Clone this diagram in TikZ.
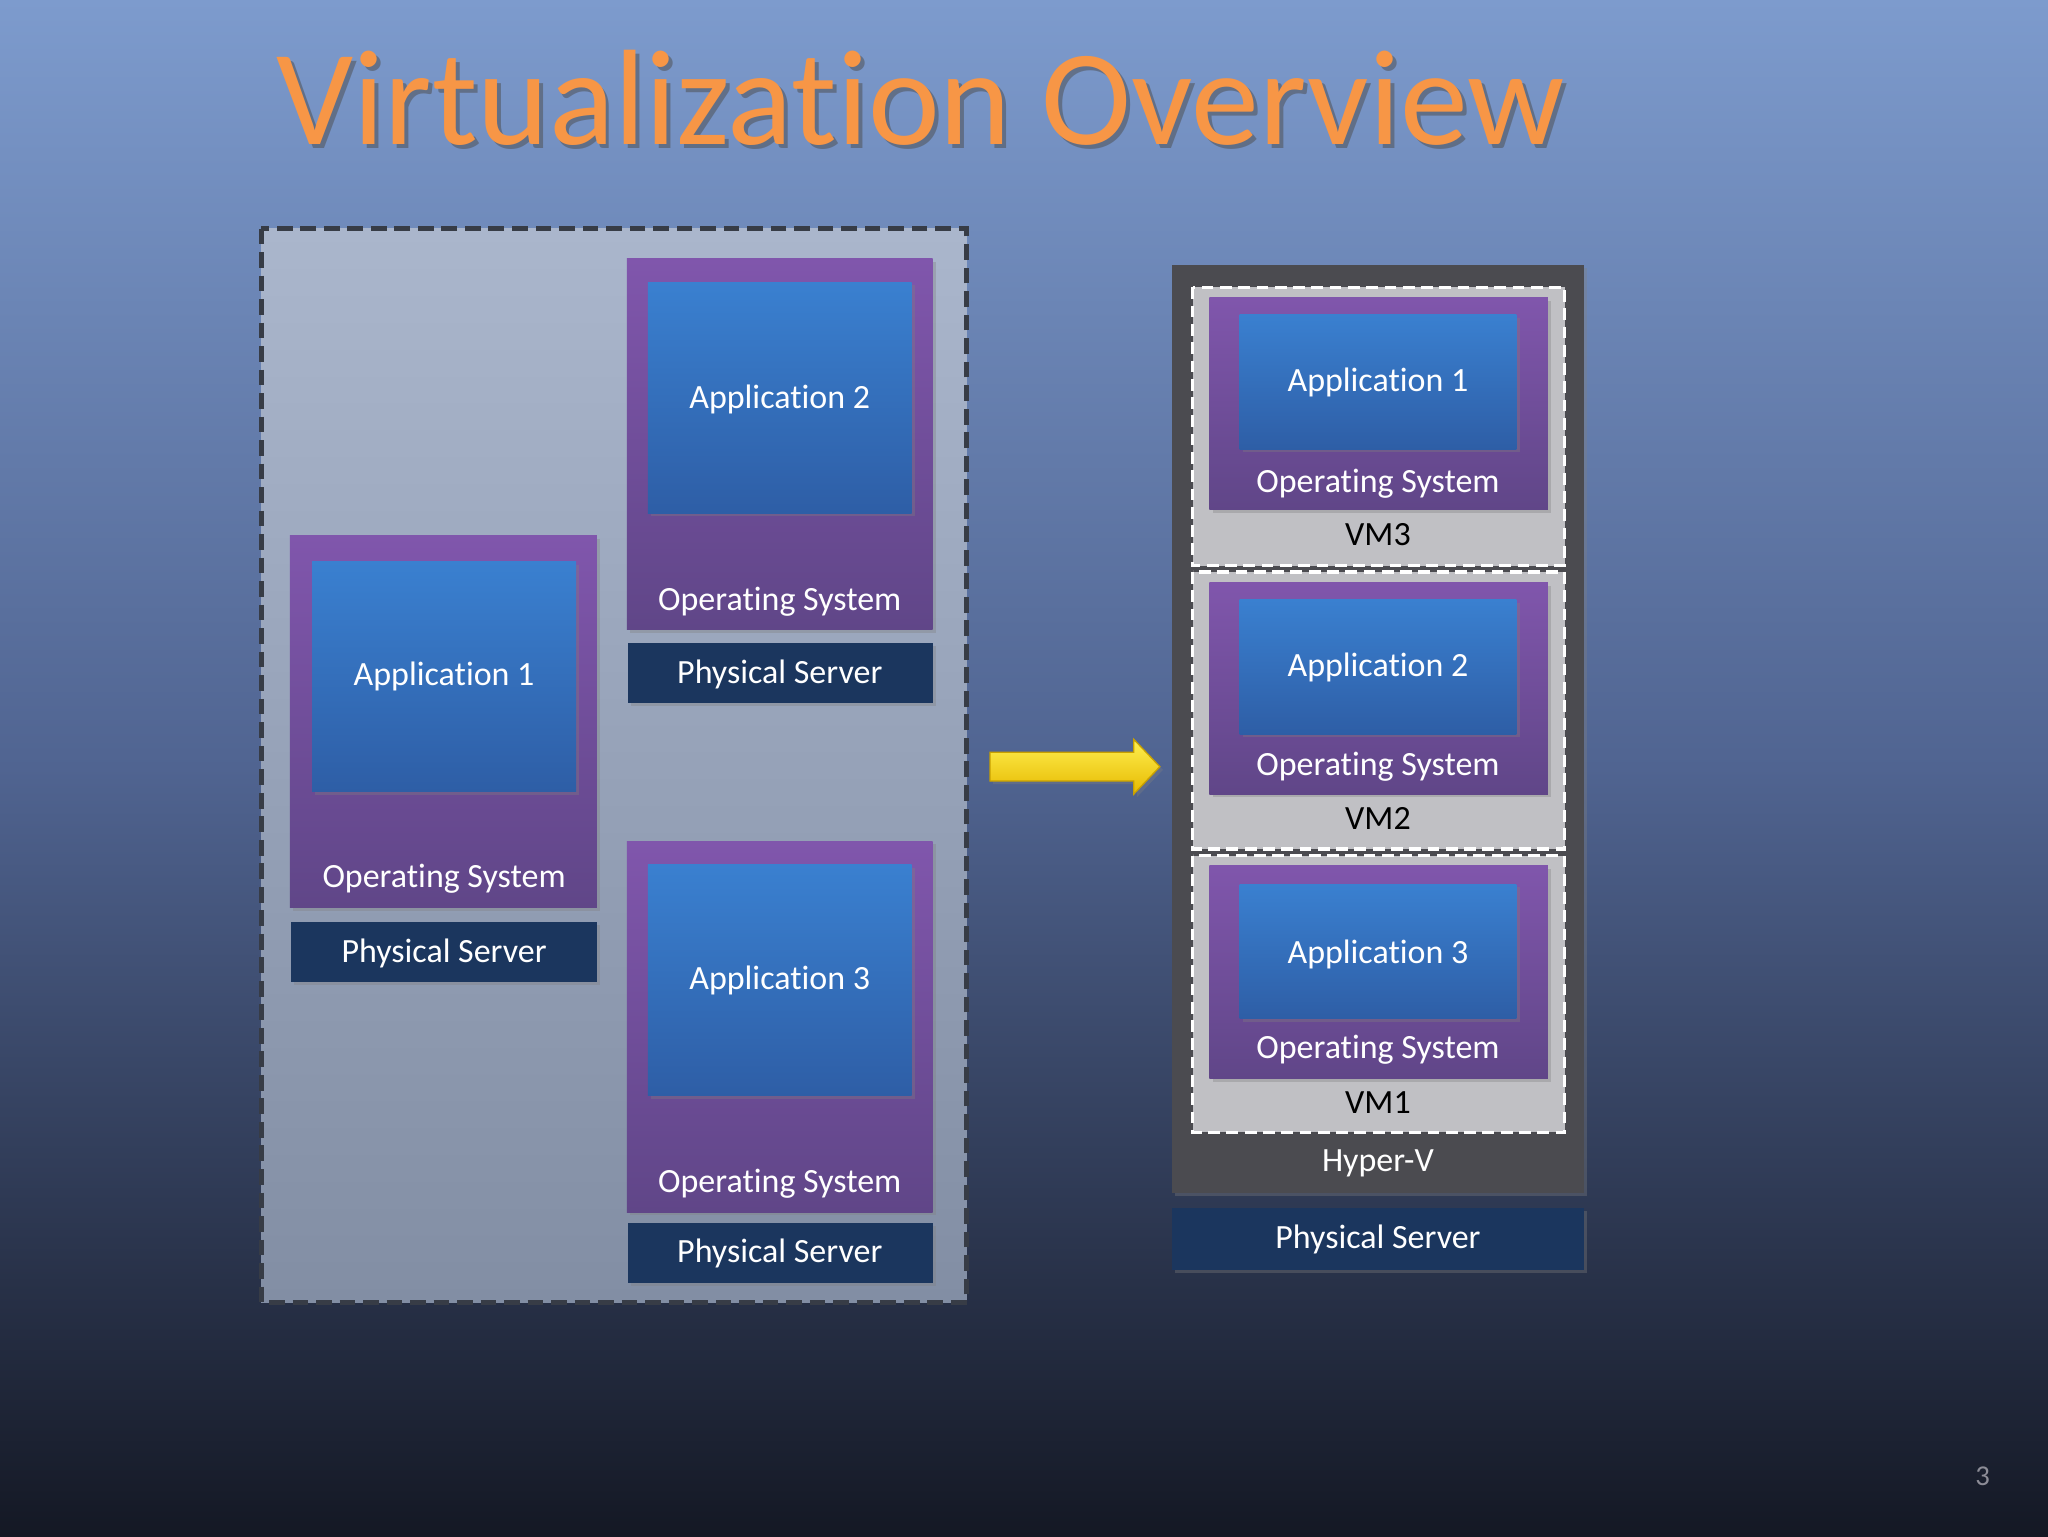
\documentclass[tikz,border=0pt]{standalone}
\usepackage{fontspec}
\setmainfont{Carlito}[Ligatures=NoCommon]
\usetikzlibrary{shadows}
\definecolor{navy}{RGB}{27,54,94}
\definecolor{orng}{RGB}{247,150,70}
\definecolor{hvgrey}{RGB}{75,75,80}
\definecolor{vmgrey}{RGB}{192,192,196}
\tikzset{
 osbox/.style={draw=none,top color={rgb,255:red,128;green,86;blue,172},bottom color={rgb,255:red,96;green,70;blue,136},drop shadow={opacity=0.35}},
 appbox/.style={draw=none,top color={rgb,255:red,58;green,128;blue,208},bottom color={rgb,255:red,46;green,94;blue,166},drop shadow={opacity=0.35}},
 psbox/.style={fill=navy,draw=none,drop shadow={opacity=0.35}},
 wtxt/.style={text=white,font=\fontsize{26}{30}\selectfont},
 btxt/.style={text=black,font=\fontsize{26}{30}\selectfont},
 vmbox/.style={fill=vmgrey,draw=white,line width=2.5pt,dash pattern=on 9pt off 5pt},
}
\begin{document}
\begin{tikzpicture}[x=1pt,y=-1pt]
\useasboundingbox (0,0) rectangle (1568,1176);
\shade[top color={rgb,255:red,125;green,155;blue,205},bottom color={rgb,255:red,20;green,24;blue,36},middle color={rgb,255:red,80;green,100;blue,145}] (0,0) rectangle (1568,1176);
% title
\node[text=black!70,opacity=0.5,font=\fontsize{104}{116}\selectfont,anchor=base] at (708,114) {Virtualization Overview};
\node (title)[text=orng,font=\fontsize{104}{116}\selectfont,anchor=base] at (705,111) {Virtualization Overview};
% left box
\fill[top color={rgb,255:red,170;green,182;blue,204},bottom color={rgb,255:red,130;green,142;blue,164}] (200,175) rectangle (740,997);
\draw[line width=3.5pt,draw={rgb,255:red,55;green,60;blue,70},dash pattern=on 12pt off 6pt] (200,175) rectangle (740,997);
% app1
\path[osbox] (222,410) rectangle (457,695);
\path[appbox] (239,430) rectangle (441,606);
\node (a1)[wtxt] at (340,518) {Application 1};
\node (o1)[wtxt] at (340,673) {Operating System};
\path[psbox] (223,706) rectangle (457,752);
\node (p1)[wtxt] at (340,730) {Physical Server};
% app2
\path[osbox] (480,198) rectangle (714,482);
\path[appbox] (496,216) rectangle (698,393);
\node (a2)[wtxt] at (597,306) {Application 2};
\node (o2)[wtxt] at (597,461) {Operating System};
\path[psbox] (481,492) rectangle (714,538);
\node (p2)[wtxt] at (597,516) {Physical Server};
% app3
\path[osbox] (480,644) rectangle (714,928);
\path[appbox] (496,662) rectangle (698,839);
\node (a3)[wtxt] at (597,751) {Application 3};
\node (o3)[wtxt] at (597,906) {Operating System};
\path[psbox] (481,936) rectangle (714,982);
\node (p3)[wtxt] at (597,960) {Physical Server};
% arrow
\path[draw={rgb,255:red,200;green,160;blue,0},line width=1pt,top color={rgb,255:red,255;green,240;blue,80},bottom color={rgb,255:red,230;green,185;blue,0},drop shadow={opacity=0.35}]
 (758,576) -- (868,576) -- (868,566) -- (888,587) -- (868,608) -- (868,598) -- (758,598) -- cycle;
% right
\fill[hvgrey,drop shadow={opacity=0.35}] (897,203) rectangle (1213,913);
\node (hv)[wtxt] at (1055,891) {Hyper-V};
\path[psbox] (897,925) rectangle (1213,972);
\node (pr)[wtxt] at (1055,949) {Physical Server};
% VM3
\draw[vmbox] (913,220) rectangle (1198,433);
\path[osbox] (926,228) rectangle (1185,390);
\path[appbox] (949,241) rectangle (1161,344);
\node (va3)[wtxt] at (1055,293) {Application 1};
\node (vo3)[wtxt] at (1055,370) {Operating System};
\node (vm3)[btxt] at (1055,409) {VM3};
% VM2
\draw[vmbox] (913,438) rectangle (1198,650);
\path[osbox] (926,446) rectangle (1185,608);
\path[appbox] (949,459) rectangle (1161,562);
\node (va2)[wtxt] at (1055,511) {Application 2};
\node (vo2)[wtxt] at (1055,587) {Operating System};
\node (vm2)[btxt] at (1055,627) {VM2};
% VM1
\draw[vmbox] (913,655) rectangle (1198,867);
\path[osbox] (926,663) rectangle (1185,826);
\path[appbox] (949,677) rectangle (1161,780);
\node (va1)[wtxt] at (1055,731) {Application 3};
\node (vo1)[wtxt] at (1055,804) {Operating System};
\node (vm1)[btxt] at (1055,844) {VM1};
\node (pg)[text={rgb,255:red,140;green,140;blue,150},font=\fontsize{22}{26}\selectfont] at (1518,1130) {3};
\end{tikzpicture}
\end{document}
